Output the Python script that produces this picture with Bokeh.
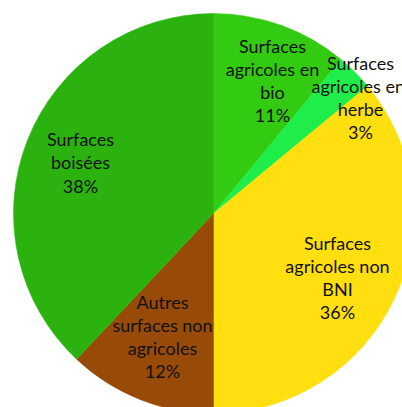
from math import pi

from bokeh.core.properties import value
from bokeh.embed import file_html
from bokeh.models import ColumnDataSource, Range1d
from bokeh.plotting import figure
from bokeh.resources import INLINE

# Land-use shares, clockwise from 12 o'clock
categories = [
    "Surfaces\nagricoles en\nbio",
    "Surfaces\nagricoles  en\nherbe",
    "Surfaces\nagricoles non\nBNI",
    "Autres\nsurfaces non\nagricoles",
    "Surfaces\nboisées",
]
shares = [11, 3, 36, 12, 38]
colors = ["#33cb11", "#1fee4a", "#ffdf10", "#984a08", "#2bb20f"]

W, H = 402, 407
cx, cy, r = 213, H - 213, 200
# label anchor points (screen pixels, y measured from top)
label_xy = [(272, 80), (360, 97), (337, 277), (162, 336), (80, 162)]

total = float(sum(shares))
starts, ends = [], []
acc = 0.0
for s in shares:
    starts.append(pi / 2 - 2 * pi * acc / total)
    acc += s
    ends.append(pi / 2 - 2 * pi * acc / total)

src = ColumnDataSource(dict(
    start=starts, end=ends, color=colors,
    label=[f"{c}\n{s}%" for c, s in zip(categories, shares)],
    lx=[p[0] for p in label_xy], ly=[H - p[1] for p in label_xy],
))

p = figure(width=W, height=H, x_range=Range1d(0, W), y_range=Range1d(0, H),
           output_backend="svg", toolbar_location=None, min_border=0,
           background_fill_color="white", border_fill_color="white")
p.axis.visible = False
p.grid.visible = False
p.outline_line_color = None

p.wedge(x=cx, y=cy, radius=r, start_angle="start", end_angle="end",
        direction="clock", fill_color="color", line_color="color",
        line_width=0.5, source=src)

p.text(x="lx", y="ly", text="label", source=src,
       text_font=value("Lato"), text_font_size="18px", text_color="#111111",
       text_align="center", text_baseline="middle", text_line_height=1.05)

open("out.html", "w").write(file_html(p, INLINE))
